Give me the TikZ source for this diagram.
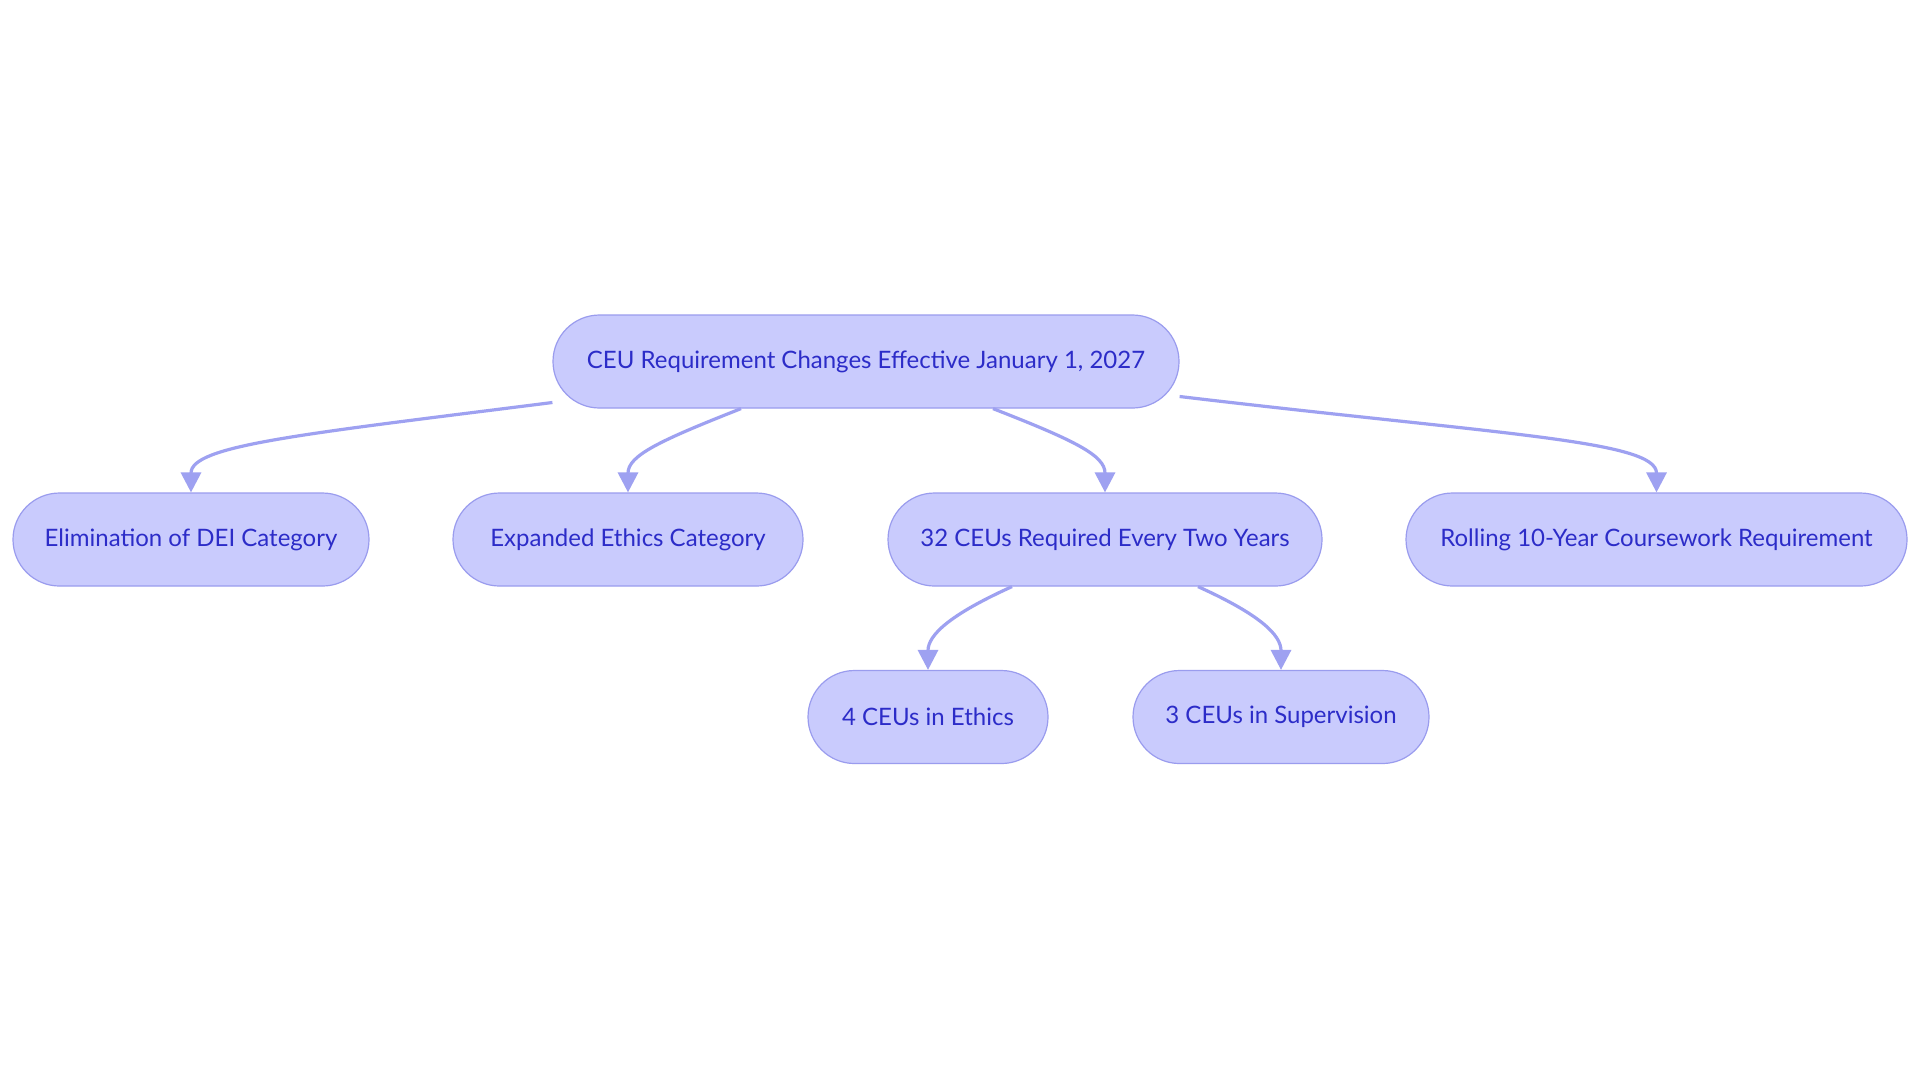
\documentclass[tikz,border=0pt]{standalone}
\usepackage{fontspec}
\setmainfont{Lato}
\usetikzlibrary{arrows.meta, calc, shapes.misc}
\definecolor{boxfill}{HTML}{C9CBFD}
\definecolor{boxline}{HTML}{9A9CEE}
\definecolor{boxtext}{HTML}{2C2CC8}
\definecolor{linkline}{HTML}{9EA1F1}
\tikzset{box/.style = {rounded rectangle, draw = boxline, fill = boxfill, line width = 0.6pt, text = boxtext, font = \fontsize{12}{14}\selectfont, inner sep = 0pt, minimum height = 46.5pt}}
\tikzset{link/.style = {draw = linkline, line width = 1.6pt, -{Triangle[length = 10pt, width = 10pt]}}}

\begin{document}
\begin{tikzpicture}[x = 0.5pt, y = -0.5pt]
\useasboundingbox [fill = white] (0,0) rectangle (1920,1083);
\node [box, minimum width = 313pt] (root) at (866,361.5) {CEU Requirement Changes Effective January 1, 2027};
\node [box, minimum width = 178pt] (elim) at (191,539.5) {Elimination of DEI Category};
\node [box, minimum width = 175pt] (expd) at (628,539.5) {Expanded Ethics Category};
\node [box, minimum width = 217pt] (c32) at (1105,539.5) {32 CEUs Required Every Two Years};
\node [box, minimum width = 250.5pt] (roll) at (1656.5,539.5) {Rolling 10-Year Coursework Requirement};
\node [box, minimum width = 120pt] (ethics) at (928,717) {4 CEUs in Ethics};
\node [box, minimum width = 148pt] (superv) at (1281,717) {3 CEUs in Supervision};
% links from the root
\draw [link] ($(root.west)+(0,41)$) .. controls +(-253,32) and +(0,-47) .. (elim.north);
\draw [link] ($(root.south)+(-125,0)$) .. controls +(-81,32) and +(0,-37) .. (expd.north);
\draw [link] ($(root.south)+(127,0)$) .. controls +(82,32) and +(0,-37) .. (c32.north);
\draw [link] ($(root.east)+(0,35)$) .. controls +(320,38) and +(0,-52) .. (roll.north);
% links from the 32 CEUs box
\draw [link] ($(c32.south)+(-93,0)$) .. controls +(-62,28) and +(0,-35) .. (ethics.north);
\draw [link] ($(c32.south)+(93,0)$) .. controls +(62,28) and +(0,-35) .. (superv.north);
\end{tikzpicture}
\end{document}
